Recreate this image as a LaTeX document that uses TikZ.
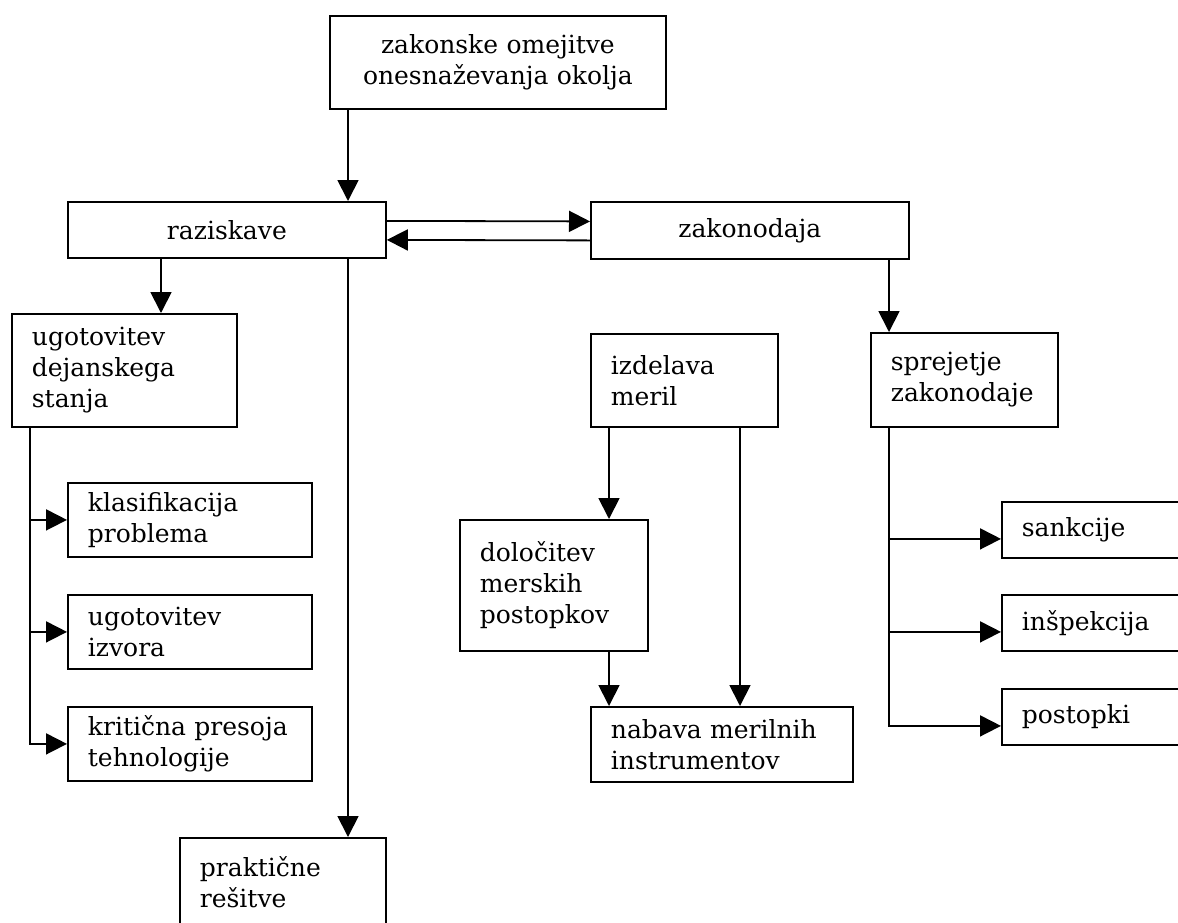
\documentclass[tikz,border=0pt]{standalone}
\usepackage{fontspec}
\setmainfont{DejaVu Serif}
\usetikzlibrary{positioning,arrows.meta,calc}

\begin{document}
\begin{tikzpicture}[x=1pt,y=-1pt,
  font=\fontsize{25}{31}\selectfont,
  blok/.style={draw,line width=1.8pt,anchor=north west,inner xsep=20pt,inner ysep=3pt,align=left},
  sredina/.style={blok,align=center},
  pusc/.style={-{Triangle[length=21pt,width=21pt]},line width=1.8pt}]
\clip (0,0) rectangle (1178,922);
\def\z{9pt}
% zgoraj
\node[sredina,text width=296pt,minimum height=93pt] (zakon) at (329,15) {zakonske~omejitve\\onesnaževanja~okolja};
\node[sredina,text width=278pt,minimum height=56pt] (razisk) at (67,201) {raziskave};
\node[sredina,text width=278pt,minimum height=57pt] (zakonod) at (590,201) {zakonodaja};
% levo
\node[blok,text width=185pt,minimum height=113pt] (stanje) at (11,313) {ugotovitev\\dejanskega\\stanja};
\node[blok,text width=204pt,minimum height=74pt] (klasif) at (67,482) {klasifikacija\\problema};
\node[blok,text width=204pt,minimum height=74pt] (izvor) at (67,594) {ugotovitev\\izvora};
\node[blok,text width=204pt,minimum height=74pt] (presoja) at (67,706) {kritična~presoja\\tehnologije};
\node[blok,text width=166pt,minimum height=89pt] (prakt) at (179,837) {praktične\\rešitve};
% sredina
\node[blok,text width=147pt,minimum height=93pt] (izdel) at (590,333) {izdelava\\meril};
\node[blok,text width=148pt,minimum height=131pt] (dolocit) at (459,519) {določitev\\merskih\\postopkov};
\node[blok,text width=222pt,minimum height=75pt] (nabava) at (590,706) {nabava~merilnih\\instrumentov};
% desno
\node[blok,text width=147pt,minimum height=94pt] (sprej) at (870,332) {sprejetje\\zakonodaje};
\node[blok,text width=200pt,minimum height=56pt] (sankc) at (1001,501) {sankcije};
\node[blok,text width=200pt,minimum height=56pt] (inspek) at (1001,594) {inšpekcija};
\node[blok,text width=200pt,minimum height=56pt] (postop) at (1001,688) {postopki};

\coordinate (os) at (348,0);
\coordinate (r1) at (161,0);
\coordinate (lev) at (30,0);
\coordinate (des) at (889,0);
\coordinate (m1) at (609,0);
\coordinate (m2) at (740,0);

\draw[pusc] (zakon.south -| os) -- (razisk.north -| os);
\draw[pusc] ([yshift=\z]razisk.east) -- ([yshift=\z]zakonod.west);
\draw[pusc] ([yshift=-10pt]zakonod.west) -- ([yshift=-10pt]razisk.east);
\draw[pusc] (razisk.south -| r1) -- (stanje.north -| r1);
\draw[pusc] (razisk.south -| os) -- (prakt.north -| os);
\draw[pusc] (stanje.south -| lev) |- (presoja.west);
\foreach \n in {klasif,izvor}
  \draw[pusc] (\n.west -| lev) -- (\n.west);
\draw[pusc] (izdel.south -| m1) -- (dolocit.north -| m1);
\draw[pusc] (izdel.south -| m2) -- (nabava.north -| m2);
\draw[pusc] (dolocit.south -| m1) -- (nabava.north -| m1);
\draw[pusc] (zakonod.south -| des) -- (sprej.north -| des);
\draw[pusc] (sprej.south -| des) |- ([yshift=-\z]postop.west);
\foreach \n in {sankc,inspek}
  \draw[pusc] ([yshift=-\z]\n.west -| des) -- ([yshift=-\z]\n.west);
\end{tikzpicture}
\end{document}
